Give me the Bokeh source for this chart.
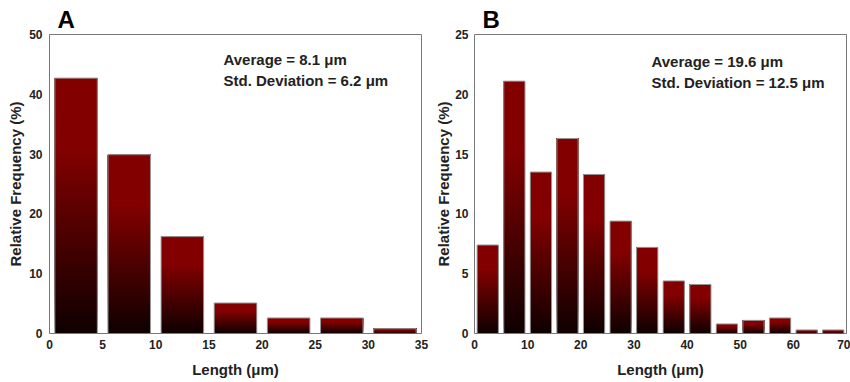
from bokeh.plotting import figure
from bokeh.layouts import row
from bokeh.models import Label, FixedTicker, ColumnDataSource, Range1d
from bokeh.embed import file_html
from bokeh.resources import INLINE

# ---- data ----
a_bin_left = [0, 5, 10, 15, 20, 25, 30]
a_freq = [42.7, 29.9, 16.2, 5.1, 2.6, 2.6, 0.8]
a_xticks = [0, 5, 10, 15, 20, 25, 30, 35]
a_yticks = [0, 10, 20, 30, 40, 50]
a_stats = ["Average = 8.1 \u03bcm", "Std. Deviation = 6.2 \u03bcm"]

b_bin_left = [0, 5, 10, 15, 20, 25, 30, 35, 40, 45, 50, 55, 60, 65]
b_freq = [7.4, 21.1, 13.5, 16.3, 13.3, 9.4, 7.2, 4.4, 4.1, 0.8, 1.1, 1.3, 0.3, 0.3]
b_xticks = [0, 10, 20, 30, 40, 50, 60, 70]
b_yticks = [0, 5, 10, 15, 20, 25]
b_stats = ["Average = 19.6 \u03bcm", "Std. Deviation = 12.5 \u03bcm"]

FONT = "Liberation Sans"
TOP_RGB = (130, 0, 0)
BOT_RGB = (14, 0, 0)
NSLICE = 48
PLATEAU = 0.72  # fraction of the bar height over which the gradient runs


def hexcol(t):
    t = min(1.0, t / PLATEAU)
    r = int(round(BOT_RGB[0] + (TOP_RGB[0] - BOT_RGB[0]) * t))
    g = int(round(BOT_RGB[1] + (TOP_RGB[1] - BOT_RGB[1]) * t))
    b = int(round(BOT_RGB[2] + (TOP_RGB[2] - BOT_RGB[2]) * t))
    return "#%02x%02x%02x" % (r, g, b)


def make_panel(letter, bin_left, freq, bin_w, xmax, ymax, xticks, yticks, stats,
               width, bl, br, stat_x, stat_y, ylab_standoff, ytick_standoff):
    p = figure(width=width, height=382, x_range=Range1d(0, xmax), y_range=Range1d(0, ymax),
               output_backend="svg", toolbar_location=None,
               min_border_left=bl, min_border_right=br, min_border_top=34, min_border_bottom=49)
    p.background_fill_color = "white"
    p.border_fill_color = "white"
    p.outline_line_color = "#777777"
    p.outline_line_width = 1
    p.xgrid.visible = False
    p.ygrid.visible = False

    p.title.text = letter
    p.title.text_font = FONT
    p.title.text_font_style = "bold"
    p.title.text_font_size = "24px"
    p.title.text_color = "black"
    p.title.align = "left"
    p.title.offset = 8
    p.title.standoff = 4

    half = 0.4 * bin_w
    centers = [l + bin_w / 2 for l in bin_left]
    L, R, B, T, C = [], [], [], [], []
    for c, h in zip(centers, freq):
        for k in range(NSLICE):
            L.append(c - half)
            R.append(c + half)
            B.append(h * k / NSLICE)
            T.append(h)
            C.append(hexcol((k + 0.5) / NSLICE))
    src = ColumnDataSource(dict(left=L, right=R, bottom=B, top=T, color=C))
    p.quad(left="left", right="right", bottom="bottom", top="top", source=src,
           fill_color="color", line_color=None)
    osrc = ColumnDataSource(dict(left=[c - half for c in centers], right=[c + half for c in centers],
                                 top=freq, bottom=[0] * len(freq)))
    p.quad(left="left", right="right", bottom="bottom", top="top", source=osrc,
           fill_color=None, line_color="#9a9a9a", line_width=1)

    for ax, ticks in ((p.xaxis, xticks), (p.yaxis, yticks)):
        ax.ticker = FixedTicker(ticks=ticks)
        ax.major_tick_in = 0
        ax.major_tick_out = 0
        ax.minor_tick_line_color = None
        ax.axis_line_color = None
        ax.major_label_text_font = FONT
        ax.major_label_text_font_style = "bold"
        ax.major_label_text_font_size = "12px"
        ax.major_label_text_color = "#222222"
        ax.axis_label_text_font = FONT
        ax.axis_label_text_font_style = "bold"
        ax.axis_label_text_font_size = "15px"
        ax.axis_label_text_color = "#222222"
    p.xaxis.major_label_standoff = 6
    p.yaxis.major_label_standoff = ytick_standoff
    p.xaxis.axis_label_standoff = 9
    p.yaxis.axis_label_standoff = ylab_standoff
    p.xaxis.axis_label = "Length (\u03bcm)"
    p.yaxis.axis_label = "Relative Frequency (%)"

    for i, s in enumerate(stats):
        p.add_layout(Label(x=stat_x, y=stat_y - 21 * i, x_units="screen", y_units="screen",
                           text=s, text_font=FONT, text_font_style="bold",
                           text_font_size="15px", text_color="#222222",
                           text_baseline="middle"))
    return p


pa = make_panel("A", a_bin_left, a_freq, 5, 35, 50, a_xticks, a_yticks, a_stats,
                430, 49, 9, 174, 274, 2, 7)
pb = make_panel("B", b_bin_left, b_freq, 5, 70, 25, b_xticks, b_yticks, b_stats,
                420, 44, 4, 177, 272, 0, 6)

layout = row(pa, pb)
open("out.html", "w").write(file_html(layout, INLINE))
